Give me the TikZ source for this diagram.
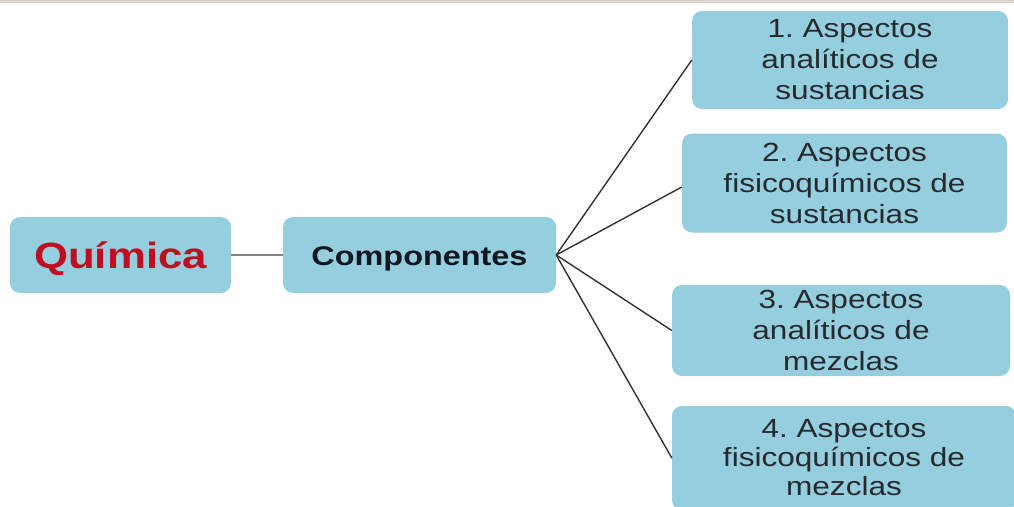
\documentclass[tikz,border=0pt]{standalone}
\usepackage{fontspec}
\newfontfamily\boxfont[FakeStretch=1.2]{Liberation Sans}
\frenchspacing
\definecolor{boxblue}{RGB}{149,206,222}
\definecolor{quimred}{RGB}{192,14,32}
\definecolor{compblack}{RGB}{14,22,32}
\definecolor{textgray}{RGB}{38,42,46}
\definecolor{topband}{RGB}{218,212,208}
\definecolor{linkgray}{RGB}{130,130,130}
\definecolor{fangray}{RGB}{50,50,50}
\tikzset{
  mapbox/.style={rectangle, rounded corners=10pt, fill=boxblue, draw=none, inner sep=0pt, align=center},
  leafbox/.style={mapbox, text=textgray, font=\boxfont\fontsize{26.3}{31}\selectfont},
  fanline/.style={draw=fangray, line width=1.4pt},
  linkline/.style={draw=linkgray, line width=2pt}
}
\begin{document}
\begin{tikzpicture}[x=1pt,y=-1pt]
\useasboundingbox (0,0) rectangle (1014,506);
\clip (0,0) rectangle (1014,506);
\fill[topband] (0,0) rectangle (1014,3);
\node[mapbox, minimum width=221pt, minimum height=76pt, text=quimred, text height=27pt, text depth=0pt,
      font=\boxfont\bfseries\fontsize{36.5}{40}\selectfont] (quim) at (120.5,255) {Química};
\node[mapbox, minimum width=273pt, minimum height=76pt, text=compblack, text height=20pt, text depth=0pt,
      font=\boxfont\bfseries\fontsize{27}{31}\selectfont] (comp) at (419.5,255) {Componentes};
\node[leafbox, minimum width=316pt, minimum height=98pt] (a1) at (850,60) {1. Aspectos\\analíticos de\\sustancias};
\node[leafbox, minimum width=325pt, minimum height=99pt] (a2) at (844.5,183) {2. Aspectos\\fisicoquímicos de\\sustancias};
\node[leafbox, minimum width=338pt, minimum height=91pt] (a3) at (841,330.5) {3. Aspectos\\analíticos de\\mezclas};
\node[leafbox, minimum width=344pt, minimum height=104pt,
      font=\boxfont\fontsize{26.3}{29}\selectfont] (a4) at (844,458) {4. Aspectos\\fisicoquímicos de\\mezclas};
\draw[linkline] (quim.east) -- (comp.west);
\draw[fanline] (comp.east) -- (a1.west);
\draw[fanline] (comp.east) -- ([yshift=-4pt]a2.west);
\draw[fanline] (comp.east) -- (a3.west);
\draw[fanline] (comp.east) -- (a4.west);
\end{tikzpicture}
\end{document}
